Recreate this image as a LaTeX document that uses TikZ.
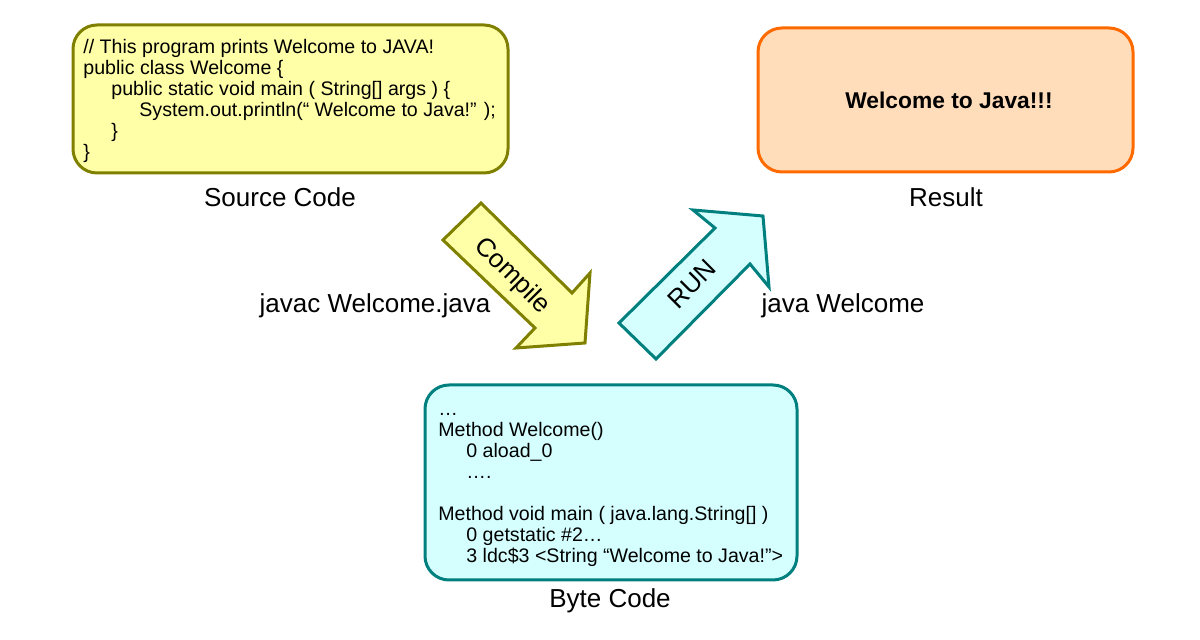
\documentclass[tikz,border=0pt]{standalone}
\usepackage{fontspec}
\setmainfont{Liberation Sans}
\begin{document}
\begin{tikzpicture}[x=0.5pt,y=-0.5pt,
  box/.style={line width=1.5pt,rounded corners=12pt},
  code/.style={anchor=north west,align=left,font=\fontsize{9.8}{10.5}\selectfont,inner sep=0pt},
  lbl/.style={font=\fontsize{13}{15}\selectfont},
  arr/.style={line width=1.5pt,line join=miter}]
\useasboundingbox (0,0) rectangle (1200,640);
\definecolor{srcf}{HTML}{FFFFA8}\definecolor{srcd}{HTML}{808000}
\definecolor{resf}{HTML}{FFDDBB}\definecolor{resd}{HTML}{FF6A00}
\definecolor{bytf}{HTML}{D5FFFF}\definecolor{bytd}{HTML}{007F7F}
\draw[box,fill=srcf,draw=srcd] (73,25) rectangle (508,173);
\draw[box,fill=resf,draw=resd] (758,28) rectangle (1133,172);
\draw[box,fill=bytf,draw=bytd] (425,385) rectangle (797,580);
\node[code] (src) at (83,38) {\strut// This program prints Welcome to JAVA!\\
public class Welcome \{\\
\hspace*{14pt}public static void main ( String[] args ) \{\\
\hspace*{28pt}System.out.println(“ Welcome to Java!” );\\
\hspace*{14pt}\}\\
\}};
\node[font=\bfseries\fontsize{11.4}{13}\selectfont] (res) at (949,100) {Welcome to Java!!!};
\node[code] (byt) at (438,400) {\strut…\\
Method Welcome()\\
\hspace*{14pt}0 aload\_0\\
\hspace*{14pt}….\\
\mbox{}\\
Method void main ( java.lang.String[] )\\
\hspace*{14pt}0 getstatic \#2…\\
\hspace*{14pt}3 ldc\$3 <String “Welcome to Java!”>};
\node[lbl] (l1) at (280,197) {Source Code};
\node[lbl] (l2) at (946,197) {Result};
\node[lbl] (l3) at (610,601) {Byte Code};
\node[lbl] (l4) at (375,306) {javac Welcome.java};
\node[lbl] (l5) at (843,306) {java Welcome};
\draw[arr,fill=srcf,draw=srcd] (443,240)--(481,203)--(572,293)--(590,273)--(585,343)--(516,348)--(535,328)--cycle;
\draw[arr,fill=bytf,draw=bytd] (619,323)--(715,228)--(693,210)--(763,216)--(769,287)--(750,264)--(656,359)--cycle;
\node[lbl,rotate=-45,inner sep=0pt] (c) at (512,276) {Compile};
\node[lbl,rotate=45,inner sep=0pt] (r) at (692,284) {RUN};
\end{tikzpicture}
\end{document}
